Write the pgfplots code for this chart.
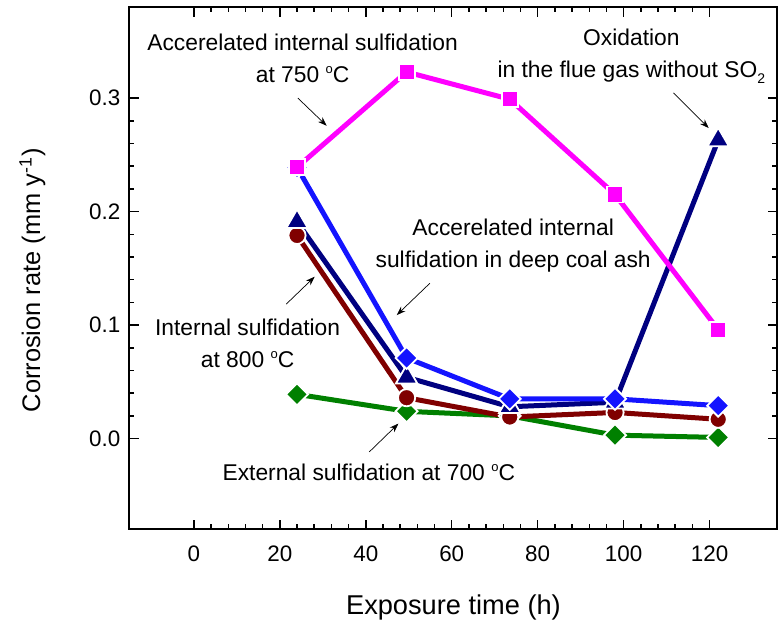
\documentclass[border=0pt]{standalone}
\usepackage{fontspec}
\setmainfont{Liberation Sans}
\usepackage{pgfplots}
\pgfplotsset{compat=1.18}
\usetikzlibrary{arrows.meta}

\definecolor{cmag}{RGB}{255,0,255}
\definecolor{cblue}{RGB}{20,20,255}
\definecolor{cnavy}{RGB}{0,0,128}
\definecolor{cred}{RGB}{128,0,0}
\definecolor{cgreen}{RGB}{0,128,0}
\newcommand{\degC}{\ \raisebox{0.75ex}{\fontsize{6.5}{7}\selectfont o}C}

\begin{document}
\begin{tikzpicture}
\begin{axis}[
  width=324pt, height=261pt, scale only axis,
  xmin=-15, xmax=135.8, ymin=-0.08, ymax=0.38,
  xtick={0,20,...,120}, ytick={0,0.1,0.2,0.3},
  minor x tick num=4, minor y tick num=4,
  tick align=inside, tick pos=both,
  major tick length=4.7pt, minor tick length=2.5pt,
  every tick/.style={line width=0.75pt, black},
  axis line style={line width=1pt},
  /pgf/number format/assume math mode=true,
  yticklabel style={/pgf/number format/fixed, /pgf/number format/fixed zerofill,
    /pgf/number format/precision=1, xshift=-1pt},
  xticklabel style={yshift=-4.5pt},
  tick label style={font=\fontsize{11.2}{13}\selectfont},
  xlabel={Exposure time (h)},
  ylabel={Corrosion rate (mm y\textsuperscript{-1})},
  xlabel style={font=\fontsize{13.6}{15}\selectfont,
    at={(axis description cs:0.5,0)}, anchor=center, yshift=-39pt},
  ylabel style={font=\fontsize{12.7}{15}\selectfont,
    at={(axis description cs:0,0.477)}, anchor=center, yshift=48.5pt},
  clip=false,
  every axis plot/.append style={line width=2.5pt},
]
\addplot[cgreen, mark=square*, mark size=3.9pt,
  mark options={rotate=45, draw=white, line width=0.9pt, fill=cgreen}] coordinates {
  (24,0.039) (49.5,0.024) (73.5,0.020) (98,0.003) (122,0.001)
};
\addplot[cred, mark=*, mark size=4.3pt,
  mark options={draw=white, line width=0.9pt, fill=cred}] coordinates {
  (24,0.179) (49.5,0.036) (73.5,0.019) (98,0.023) (122,0.017)
};
\addplot[cnavy, mark=triangle*, mark size=6.2pt,
  mark options={draw=white, line width=0.9pt, fill=cnavy}] coordinates {
  (24,0.191) (49.5,0.054) (73.5,0.028) (98,0.032) (122,0.263)
};
\addplot[cblue, mark=square*, mark size=3.9pt,
  mark options={rotate=45, draw=white, line width=0.9pt, fill=cblue}] coordinates {
  (24,0.239) (49.5,0.071) (73.5,0.035) (98,0.035) (122,0.029)
};
\addplot[cmag, mark=square*, mark size=4pt,
  mark options={draw=white, line width=0.9pt, fill=cmag}] coordinates {
  (24,0.239) (49.5,0.323) (73.5,0.299) (98,0.215) (122,0.096)
};

% annotations
\begin{scope}[every node/.style={font=\fontsize{11.4}{16}\selectfont, align=center, text=black}]
\node at (axis cs:25.3,0.335) {Accerelated internal sulfidation\\at 750\degC};
\node at (axis cs:101.8,0.337) {Oxidation\\in the flue gas without SO\raisebox{-0.55ex}{\fontsize{7}{7}\selectfont 2}};
\node at (axis cs:74.3,0.170) {Accerelated internal\\sulfidation in deep coal ash};
\node at (axis cs:12.5,0.084) {Internal sulfidation\\at 800\degC};
\node at (axis cs:40.7,-0.0295) {External sulfidation at 700\degC};
\end{scope}
\begin{scope}[line width=0.35pt, -{Stealth[length=4.5pt,width=3.2pt]}]
\draw (axis cs:24.2,0.300) -- (axis cs:30.9,0.2756);
\draw (axis cs:111.6,0.3045) -- (axis cs:119.8,0.2736);
\draw (axis cs:21.5,0.1185) -- (axis cs:28.1,0.1426);
\draw (axis cs:54.9,0.1368) -- (axis cs:47.2,0.1088);
\draw (axis cs:40.8,-0.0118) -- (axis cs:47.6,0.0132);
\end{scope}

\path (rel axis cs:0,0) ++(-64.7pt,-45.5pt) coordinate (bl);
\path (rel axis cs:1,1) ++(0.75pt,3.65pt) coordinate (tr);
\end{axis}
\path (bl) rectangle (tr);
\end{tikzpicture}
\end{document}
